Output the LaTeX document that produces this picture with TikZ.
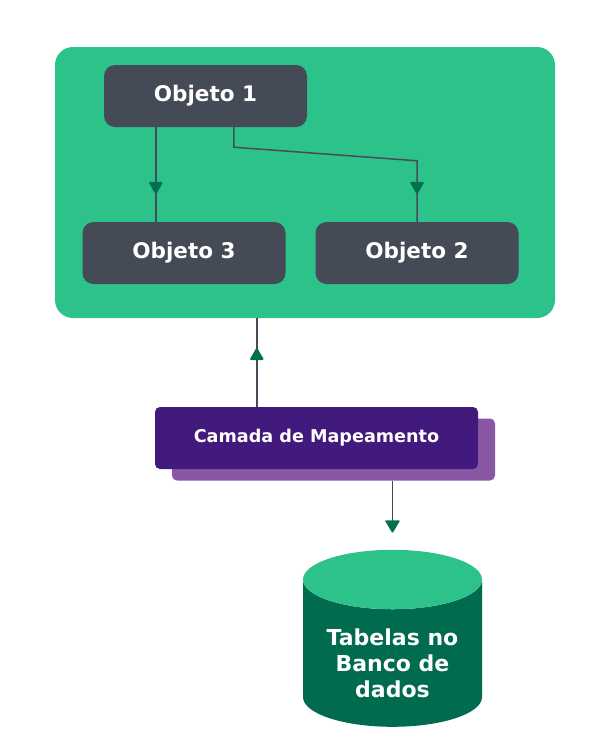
\documentclass[tikz,border=0pt]{standalone}
\usepackage{fontspec}
\setmainfont{DejaVu Sans}
\usetikzlibrary{shapes.geometric,arrows.meta,decorations.markings,positioning}
\definecolor{framegreen}{RGB}{46,194,139}
\definecolor{objgray}{RGB}{69,74,87}
\definecolor{linegray}{RGB}{71,75,87}
\definecolor{tipgreen}{RGB}{0,112,79}
\definecolor{dbgreen}{RGB}{0,107,79}
\definecolor{mappurple}{RGB}{66,25,124}
\definecolor{shadowpurple}{RGB}{137,87,163}

\begin{document}
\begin{tikzpicture}[x=1pt, y=-1pt,
    objbox/.style={fill=objgray, rounded corners=11pt, minimum width=203pt,
        minimum height=62pt, text=white, font=\fontsize{21.5}{25}\selectfont\bfseries},
    mapbox/.style={rounded corners=5pt, minimum width=323pt, minimum height=62pt},
    link/.style={draw=linegray, line width=1.5pt},
    midarrow/.style={postaction={decorate}, decoration={markings,
        mark=at position #1 with {\fill[tipgreen, rounded corners=1.5pt]
            (3pt,0pt) -- (-10pt,7.5pt) -- (-10pt,-7.5pt) -- cycle;}}}
]
    \useasboundingbox (0,0) rectangle (610,750);

    % area dos objetos
    \node[fill=framegreen, rounded corners=18pt, minimum width=500pt,
        minimum height=271pt] (frame) at (305,182.5) {};
    \node[objbox] (obj1) at (205.5,96) {Objeto 1};
    \node[objbox] (obj3) at (184,253) {Objeto 3};
    \node[objbox] (obj2) at (417,253) {Objeto 2};

    % ligacoes entre objetos
    \coordinate (s13) at ([xshift=52pt]obj1.south west);
    \coordinate (s12) at ([xshift=130pt]obj1.south west);
    \draw[link, midarrow=-30pt] (s13) -- (s13 |- obj3.north);
    \draw[link, midarrow=-30pt] (s12) -- ++(0,20) -- ([yshift=61pt]obj2.north) -- (obj2.north);

    % camada de mapeamento
    \node[mapbox, fill=shadowpurple] (shadow) at (333.5,449.5) {};
    \node[mapbox, fill=mappurple, text=white,
        font=\fontsize{17.6}{21}\selectfont\bfseries] (map) at (316.5,438) {Camada de Mapeamento};
    \coordinate (sup) at ([xshift=102pt]map.north west);
    \draw[link, midarrow=-32pt] (sup) -- (sup |- frame.south);

    % banco de dados
    \node[cylinder, shape border rotate=90, aspect=0.43, draw=none, anchor=south,
        cylinder uses custom fill, cylinder body fill=dbgreen, cylinder end fill=framegreen,
        minimum width=179pt, minimum height=177pt, text=white, align=center, text height=80pt,
        font=\fontsize{22}{26}\selectfont\bfseries] (db) at (392.5,727) {Tabelas no\\Banco de\\dados};
    \draw[link, shorten >=17pt, -{Triangle[width=15pt, length=13pt, round, color=tipgreen, fill=tipgreen]}]
        (db.north |- shadow.south) -- (db.north);
\end{tikzpicture}
\end{document}
